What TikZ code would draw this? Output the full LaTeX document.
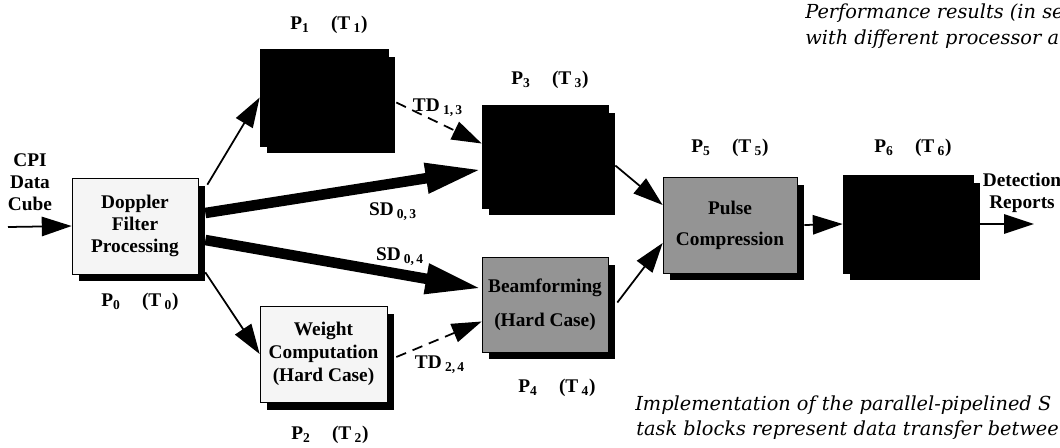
\documentclass[tikz,border=0pt]{standalone}
\usepackage{fontspec}
\setmainfont{Liberation Serif}
\newfontfamily\capfont{DejaVu Serif}
\usetikzlibrary{arrows.meta,shadows,calc}

% processor / task label and transfer label
\newcommand{\plab}[1]{P\textsubscript{#1}\hspace{1.1em}(T\,\textsubscript{#1})}
\newcommand{\dlab}[3]{#1\,\textsubscript{#2,\,#3}}

\tikzset{
  task/.style={draw=black, line width=0.4pt, align=center, inner sep=1pt,
    drop shadow={shadow xshift=0.14cm, shadow yshift=-0.15cm, opacity=1, fill=black}},
  lightbox/.style={task, fill=black!4},
  greybox/.style={task, fill=black!42},
  darkbox/.style={task, fill=black},
  flow/.style={-{Triangle[length=17pt 0 0,width=11pt 0 0]}, line width=1pt},
  bigflow/.style={-{Triangle[length=32pt 0 0,width=16pt 0 0]}, line width=6pt},
  xfer/.style={flow, dash pattern=on 6pt off 4pt},
  captext/.style={anchor=base west, inner sep=0pt, font=\capfont\itshape\fontsize{11}{14}\selectfont},
}

\begin{document}
\begin{tikzpicture}[x=0.02cm, y=-0.02cm, font=\bfseries\fontsize{11}{12.5}\selectfont]
  \useasboundingbox (0,0) rectangle (1060,447);
  % Task blocks
  \node[lightbox, minimum width=2.52cm, minimum height=1.92cm] (p0) at (135,226) {Doppler\\Filter\\Processing};
  \node[darkbox, minimum width=2.56cm, minimum height=1.94cm] (p1) at (324,97.5) {};
  \node[lightbox, minimum width=2.54cm, minimum height=1.92cm, font=\bfseries\fontsize{11}{13}\selectfont] (p2) at (323.5,354) {Weight\\Computation\\(Hard Case)};
  \node[darkbox, minimum width=2.52cm, minimum height=2.06cm] (p3) at (545,156.5) {};
  \node[greybox, minimum width=2.52cm, minimum height=1.90cm] (p4) at (545,304.5) {Beamforming\\[7pt](Hard Case)};
  \node[greybox, minimum width=2.68cm, minimum height=1.92cm] (p5) at (730,225) {Pulse\\[5pt]Compression};
  \node[darkbox, minimum width=2.60cm, minimum height=1.96cm] (p6) at (908,224) {};
  % Processor labels
  \node (l0) at (140,302) {\plab{0}};
  \node (l1) at (329,25) {\plab{1}};
  \node (l2) at (330,435) {\plab{2}};
  \node (l3) at (550,80) {\plab{3}};
  \node (l4) at (557,388) {\plab{4}};
  \node (l5) at (730,148) {\plab{5}};
  \node (l6) at (913,148) {\plab{6}};
  % Input and output
  \node[align=center] (inlab) at (30,182) {CPI\\Data\\Cube};
  \node[align=center] (outlab) at (1022,193) {Detection\\Reports};
  \coordinate (cin) at (8,227);
  \coordinate (cout) at (1034,224);
  % Connectors
  \draw[flow] (cin) -- (p0.west);
  \draw[flow] ($(p0.north east)+(9,7)$) -- (p1.west);
  \draw[flow] ($(p0.south east)+(7,-2)$) -- (p2.west);
  \draw[bigflow] ($(p0.east)+(7,-13)$) -- ($(p3.west)+(0,13)$);
  \draw[bigflow] ($(p0.east)+(7,14)$) -- ($(p4.west)+(0,-16)$);
  \draw[xfer] ($(p1.east)+(8,5)$) -- ($(p3.west)+(0,-13)$);
  \draw[xfer] ($(p2.east)+(9,3)$) -- ($(p4.west)+(0,17)$);
  \draw[flow] ($(p3.east)+(7,9)$) -- ($(p5.west)+(0,-20)$);
  \draw[flow] ($(p4.east)+(9,-2)$) -- ($(p5.west)+(0,18)$);
  \draw[flow] ($(p5.east)+(7,0)$) -- (p6.west);
  \draw[flow] ($(p6.east)+(7,0)$) -- (cout);
  % Data transfer labels
  \node (sd03) at (393,212) {\dlab{SD}{0}{3}};
  \node (sd04) at (400,257) {\dlab{SD}{0}{4}};
  \node (td13) at (438,108) {\dlab{TD}{1}{3}};
  \node (td24) at (440,365) {\dlab{TD}{2}{4}};
  % Caption fragments
  \node[captext] (capA1) at (805,18) {Performance results (in se};
  \node[captext] (capA2) at (805,44) {with different processor a};
  \node[captext] (capB1) at (635,410) {Implementation of the parallel-pipelined S};
  \node[captext] (capB2) at (636,435) {task blocks represent data transfer betwee};
\end{tikzpicture}
\end{document}
